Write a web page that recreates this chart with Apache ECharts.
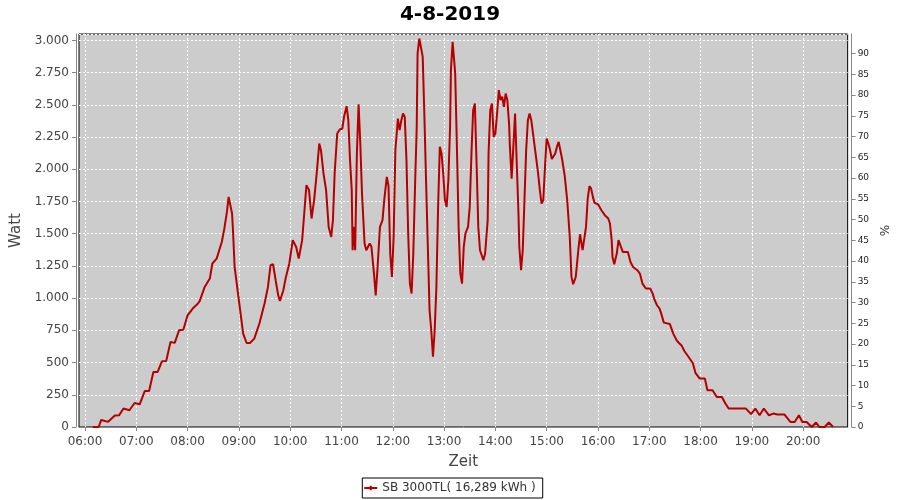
<!DOCTYPE html>
<html><head><meta charset="utf-8">
<script src="https://cdn.jsdelivr.net/npm/echarts@6/dist/echarts.min.js"></script>
<style>html,body{margin:0;padding:0;background:#fff}#c{width:900px;height:500px}</style>
</head><body><div id="c"></div>
<script>
const chartTitle = '4-8-2019';
const seriesName = 'SB 3000TL( 16,289 kWh )';
const xAxisName = 'Zeit';
const leftAxisName = 'Watt';
const rightAxisName = '%';
const axisStartMinute = 353;   // 05:53
const axisEndMinute = 1252;    // 20:52
const wattMax = 3050;
const wattStep = 250;
const percentMax = 94.7;
const percentStep = 5;

const minuteOfDay = [369,376,379,387,395,400,405,412,418,424,430,435,440,445,450,455,460,465,470,475,480,486,491,494,500,506,509,514,520,523,526,528,530,532,533,535,539,542,545,549,553,558,564,570,574,577,580,583,586,588,592,595,599,603,607,610,614,616,619,622,625,628,631,634,636,639,642,645,648,650,652,655,658,661,663,666,668,670,672,673,674,676,678,680,682,684,687,689,693,695,698,700,702,705,708,710,713,715,717,719,721,723,726,728,730,732,734,736,738,740,742,744,746,748,749,751,753,755,757,759,761,763,765,767,769,771,773,775,777,779,781,783,785,787,788,790,791,793,795,797,799,801,803,805,808,810,812,814,816,818,820,822,824,826,828,831,832,834,836,838,840,842,844,846,848,850,852,854,856,857,859,861,863,865,867,868,870,872,874,876,878,880,882,884,886,888,890,892,894,896,898,900,902,904,906,908,910,912,914,916,918,921,924,927,929,931,934,937,939,942,944,946,948,950,952,954,956,960,964,968,972,974,976,977,979,982,984,986,989,995,998,1001,1006,1009,1012,1016,1021,1024,1026,1029,1032,1034,1037,1044,1048,1052,1055,1058,1061,1066,1071,1074,1079,1085,1088,1094,1099,1105,1109,1113,1122,1133,1139,1144,1149,1154,1160,1165,1170,1175,1178,1182,1185,1190,1195,1199,1204,1206,1210,1215,1219,1225,1230,1235];

const watts = [0,0,55,40,90,92,143,130,186,176,280,280,427,427,510,512,660,653,751,755,867,919,950,975,1087,1152,1269,1307,1436,1540,1669,1786,1786,1657,1540,1242,1036,880,725,652,652,686,803,958,1087,1255,1263,1139,1022,978,1061,1165,1269,1450,1397,1307,1450,1620,1877,1840,1618,1760,1967,2200,2148,1967,1838,1553,1475,1605,1967,2278,2309,2317,2407,2490,2381,2071,1838,1372,1553,1372,2123,2505,2200,1812,1424,1372,1424,1400,1191,1022,1217,1553,1605,1760,1941,1870,1346,1165,1475,2148,2394,2304,2381,2433,2407,2071,1502,1113,1036,1346,1863,2329,2899,3015,3028,2873,2407,1890,1397,906,751,545,751,1087,1708,2174,2123,1967,1760,1708,1915,2329,2770,2989,3002,2744,2174,1553,1191,1113,1397,1502,1553,1708,2123,2459,2511,2045,1553,1372,1372,1294,1346,1605,2123,2459,2511,2252,2278,2433,2614,2537,2563,2485,2588,2537,2355,2174,1928,2174,2433,2433,1657,1397,1217,1372,1760,2148,2381,2433,2381,2278,2174,2071,1967,1838,1734,1760,2019,2239,2200,2148,2080,2071,2123,2174,2213,2148,2080,1954,1760,1475,1165,1108,1165,1372,1496,1372,1372,1553,1773,1869,1850,1786,1739,1729,1682,1644,1618,1579,1450,1320,1263,1346,1450,1455,1359,1359,1281,1242,1217,1191,1113,1075,1075,1035,990,945,919,880,810,800,725,673,650,630,590,543,495,420,376,376,285,285,233,233,182,143,143,143,100,143,91,143,91,104,97,97,97,65,39,39,91,39,39,30,0,35,0,0,35,0];

function hhmm(m) {
  const h = Math.floor(m / 60), mm = m % 60;
  return (h < 10 ? '0' : '') + h + ':' + (mm < 10 ? '0' : '') + mm;
}
const categories = [];
for (let m = axisStartMinute; m <= axisEndMinute; m++) categories.push(hhmm(m));
const seriesData = minuteOfDay.map((m, i) => [hhmm(m), watts[i]]);
const isHour = (i, v) => typeof v === 'string' ? v.endsWith(':00') : categories[i].endsWith(':00');
const thousands = v => String(v).replace(/\B(?=(\d{3})+(?!\d))/g, '.');

const FONT = 'DejaVu Sans';
const chart = echarts.init(document.getElementById('c'), null, {renderer: 'canvas'});
chart.setOption({
  animation: false,
  backgroundColor: '#ffffff',
  title: {
    text: chartTitle, left: 'center', top: 0,
    textStyle: {fontFamily: FONT, fontSize: 20, fontWeight: 'bold', color: '#000'}
  },
  legend: {
    bottom: 2, left: 'center',
    data: [{name: seriesName, icon: 'path://M0,4 L5,4 L5,3 L7,3 L7,4 L12,4 L12,6 L7,6 L7,7 L5,7 L5,6 L0,6 Z'}],
    itemWidth: 13, itemHeight: 5, itemGap: 5,
    padding: [4, 7, 4, 2],
    borderColor: '#000', borderWidth: 1,
    textStyle: {fontFamily: FONT, fontSize: 12, color: '#333'}
  },
  grid: {
    left: 79, right: 52, top: 34, bottom: 73,
    show: true, backgroundColor: '#cccccc', borderColor: '#000', borderWidth: 1,
    containLabel: false
  },
  xAxis: {
    type: 'category', data: categories, boundaryGap: false,
    offset: 4,
    name: xAxisName, nameLocation: 'middle', nameGap: 24,
    nameTextStyle: {fontFamily: FONT, fontSize: 15, color: '#444'},
    axisLine: {show: true, lineStyle: {color: '#888', width: 1}},
    axisTick: {show: true, interval: isHour, length: 4, lineStyle: {color: '#888'}},
    axisLabel: {interval: isHour, margin: 5, fontFamily: FONT, fontSize: 12, color: '#444'},
    splitLine: {show: true, interval: isHour, lineStyle: {color: '#ffffff', type: [2, 2], width: 1}}
  },
  yAxis: [{
    type: 'value', position: 'left', min: 0, max: wattMax, interval: wattStep,
    offset: 3,
    name: leftAxisName, nameLocation: 'middle', nameGap: 49,
    nameTextStyle: {fontFamily: FONT, fontSize: 15, color: '#444'},
    axisLine: {show: true, lineStyle: {color: '#888', width: 1}},
    axisTick: {show: true, length: 4, lineStyle: {color: '#888'}},
    axisLabel: {margin: 7, showMaxLabel: false, fontFamily: FONT, fontSize: 12, color: '#444', formatter: thousands},
    splitLine: {show: true, lineStyle: {color: '#ffffff', type: [2, 2], width: 1}}
  }, {
    type: 'value', position: 'right', min: 0, max: percentMax, interval: percentStep,
    offset: 4,
    name: rightAxisName, nameLocation: 'middle', nameGap: 25,
    nameTextStyle: {fontFamily: FONT, fontSize: 12, color: '#333'},
    axisLine: {show: true, lineStyle: {color: '#888', width: 1}},
    axisTick: {show: true, length: 4, lineStyle: {color: '#888'}},
    axisLabel: {margin: 6, showMaxLabel: false, fontFamily: FONT, fontSize: 9, color: '#222'},
    splitLine: {show: false}
  }],
  series: [{
    name: seriesName, type: 'line', yAxisIndex: 0,
    data: seriesData, showSymbol: false, symbol: 'none',
    lineStyle: {color: '#b40000', width: 2},
    itemStyle: {color: '#b40000'}
  }]
});
</script></body></html>
